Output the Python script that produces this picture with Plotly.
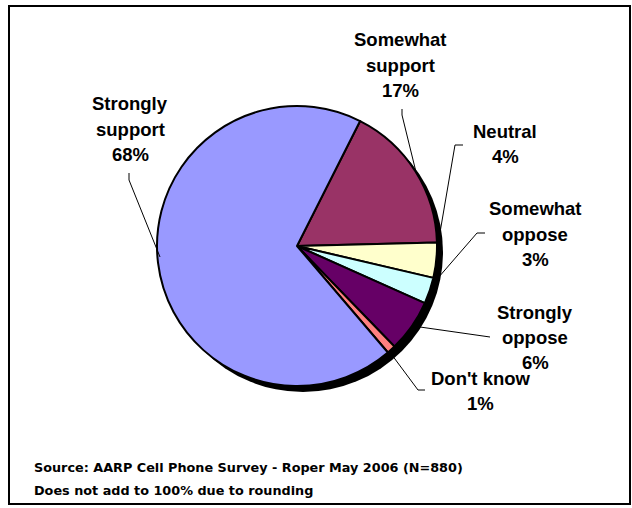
import plotly.graph_objects as go

W, H = 632, 508

labels = ["Somewhat support", "Neutral", "Somewhat oppose", "Strongly oppose", "Don't know", "Strongly support"]
values = [17, 4, 3, 6, 1, 68]
colors = ["#993366", "#FFFFCC", "#CCFFFF", "#660066", "#FF8080", "#9999FF"]

# pie geometry in pixels
CX, CY, R = 297, 246, 140
SHADOW = 6

def px(x):
    return x / W

def py(y):
    return 1 - y / H

fig = go.Figure()
fig.add_trace(go.Pie(
    labels=labels, values=values, sort=False, direction="clockwise",
    rotation=26.8, textinfo="none", hoverinfo="skip",
    marker=dict(colors=colors, line=dict(color="black", width=2)),
    domain=dict(x=[px(CX - R), px(CX + R)], y=[py(CY + R), py(CY - R)]),
    showlegend=False,
))

shapes = [
    # shadow of pie
    dict(type="circle", xref="paper", yref="paper", layer="below",
         x0=px(CX - R + SHADOW), x1=px(CX + R + SHADOW),
         y0=py(CY + R + SHADOW), y1=py(CY - R + SHADOW),
         fillcolor="black", line=dict(color="black", width=0)),
    # frame
    dict(type="rect", xref="paper", yref="paper", layer="above",
         x0=px(9), x1=px(630), y0=py(504), y1=py(6),
         line=dict(color="black", width=2)),
]

# leader lines (pixel paths)
leaders = [
    [(129, 173), (129, 180), (160, 257)],
    [(402, 109), (402, 115), (416, 172)],
    [(463, 145), (455, 145), (437, 250)],
    [(485, 233), (477, 233), (438, 278)],
    [(490, 337), (420, 327)],
    [(425, 390), (418, 390), (389, 351)],
]
for pts in leaders:
    path = "M " + " L ".join(f"{px(x)},{py(y)}" for x, y in pts)
    shapes.append(dict(type="path", xref="paper", yref="paper", path=path,
                       line=dict(color="black", width=1)))

# (lines, center x, first line center y)
label_text = [
    (["Strongly", "support", "68%"], 130, 104),
    (["Somewhat", "support", "17%"], 400, 40),
    (["Neutral", "4%"], 505, 131),
    (["Somewhat", "oppose", "3%"], 535, 209),
    (["Strongly", "oppose", "6%"], 535, 312),
    (["Don't know", "1%"], 481, 378),
]
LINE = 25
annotations = []
for lines, x, y in label_text:
    for i, t in enumerate(lines):
        annotations.append(dict(text=t, x=px(x), y=py(y + LINE * i), xref="paper", yref="paper",
                                showarrow=False, xanchor="center", yanchor="middle",
                                font=dict(family="Liberation Sans", size=18.5, color="black", weight="bold")))

source_lines = ["Source: AARP Cell Phone Survey - Roper May 2006 (N=880)",
                "Does not add to 100% due to rounding"]
for i, s in enumerate(source_lines):
    annotations.append(dict(text=s, x=px(32), y=py(467 + 23 * i), xref="paper", yref="paper",
                            showarrow=False, xanchor="left", yanchor="middle",
                            font=dict(family="DejaVu Sans", size=12.8, color="black", weight="bold")))

fig.update_layout(width=W, height=H, margin=dict(l=0, r=0, t=0, b=0),
                  paper_bgcolor="white", plot_bgcolor="white",
                  shapes=shapes, annotations=annotations)
fig.write_html("out.html")
